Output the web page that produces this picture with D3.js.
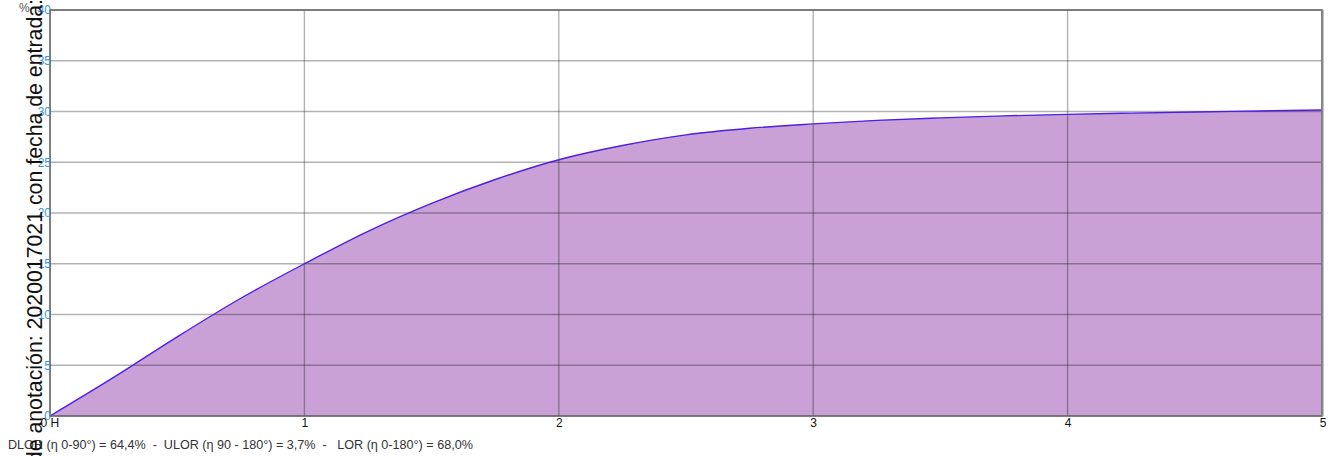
<!DOCTYPE html>
<html>
<head>
<meta charset="utf-8">
<script src="https://cdn.jsdelivr.net/npm/d3@7/dist/d3.min.js"></script>
<style>
  html, body { margin: 0; padding: 0; background: #fff; overflow: hidden; }
  svg { display: block; font-family: "Liberation Sans", Arial, sans-serif; }
</style>
</head>
<body>
<svg id="chart" width="1330" height="456"></svg>
<script>
// Cumulative distribution (%) against the horizontal distance (in H units)
const xValues = [0, 0.25, 0.5, 0.75, 1, 1.25, 1.5, 1.75, 2, 2.25, 2.5, 2.75, 3, 3.25, 3.5, 3.75, 4, 4.25, 4.5, 4.75, 5];
const yValues = [0, 3.8, 7.8, 11.6, 15.0, 18.2, 20.95, 23.3, 25.25, 26.65, 27.7, 28.35, 28.78, 29.13, 29.37, 29.57, 29.72, 29.84, 29.95, 30.05, 30.15];
const xTicks = [0, 1, 2, 3, 4, 5];
const xTickLabels = ["0 H", "1", "2", "3", "4", "5"];
const yTicks = [0, 5, 10, 15, 20, 25, 30, 35, 40];
const yUnit = "%";
const footer = "DLOR (\u03b7 0-90\u00b0) = 64,4%  -  ULOR (\u03b7 90 - 180\u00b0) = 3,7%  -   LOR (\u03b7 0-180\u00b0) = 68,0%";
const sideNote = "de anotación: 2020017021 con fecha de entrada:";

const svg = d3.select("#chart");
const plotL = 50, plotR = 1322, plotT = 10, plotB = 416;

const x = d3.scaleLinear().domain([0, 5]).range([plotL, plotR]);
const y = d3.scaleLinear().domain([0, 40]).range([plotB, plotT]);

const data = xValues.map((v, i) => ({ x: v, y: yValues[i] }));

// filled area under the curve
svg.append("path")
  .datum(data)
  .attr("fill", "#c9a1d6")
  .attr("d", d3.area().curve(d3.curveMonotoneX)
    .x(d => x(d.x)).y0(y(0)).y1(d => y(d.y)));

// grid
const grid = svg.append("g").attr("stroke", "#000").attr("stroke-opacity", 0.3).attr("stroke-width", 1.4);
yTicks.forEach(t => grid.append("line")
  .attr("x1", plotL).attr("x2", plotR).attr("y1", y(t)).attr("y2", y(t)));
xTicks.forEach(t => grid.append("line")
  .attr("x1", x(t)).attr("x2", x(t)).attr("y1", plotT).attr("y2", plotB));

// curve
svg.append("path")
  .datum(data)
  .attr("fill", "none")
  .attr("stroke", "#4f1fe0")
  .attr("stroke-width", 1.4)
  .attr("d", d3.line().curve(d3.curveMonotoneX).x(d => x(d.x)).y(d => y(d.y)));

// frame
svg.append("rect")
  .attr("x", plotL).attr("y", plotT).attr("width", plotR - plotL).attr("height", plotB - plotT)
  .attr("fill", "none").attr("stroke", "#6b6b6b").attr("stroke-width", 1.6);
svg.append("line")
  .attr("x1", plotR + 0.5).attr("x2", plotR + 0.5).attr("y1", plotT).attr("y2", plotB)
  .attr("stroke", "#8a8a8a").attr("stroke-width", 2);

// y axis labels
const yAxis = svg.append("g").attr("transform", `translate(${plotL + 1},0)`)
  .call(d3.axisLeft(y).tickValues(yTicks).tickSize(0).tickPadding(0));
yAxis.select(".domain").remove();
yAxis.selectAll("text").attr("fill", "#3f93da").style("font-size", "12px")
  .style("font-family", "'Liberation Sans', Arial, sans-serif");

svg.append("text").attr("x", 19).attr("y", 12).attr("fill", "#555")
  .style("font-size", "12px").text(yUnit);

// x axis labels
const xAxis = svg.append("g").attr("transform", `translate(0,${plotB})`)
  .call(d3.axisBottom(x).tickValues(xTicks).tickFormat((d, i) => xTickLabels[i]).tickSize(0).tickPadding(2));
xAxis.select(".domain").remove();
xAxis.selectAll("text").attr("fill", "#111").style("font-size", "12px")
  .style("font-family", "'Liberation Sans', Arial, sans-serif");
xAxis.selectAll(".tick text").filter((d, i) => i === 0).attr("text-anchor", "start").attr("dx", "-10");
xAxis.selectAll(".tick text").filter((d, i) => i === xTicks.length - 1).attr("text-anchor", "end").attr("dx", "4");

// footer summary
svg.append("text").attr("x", 8).attr("y", 449).attr("fill", "#333")
  .style("font-size", "12.6px").attr("xml:space", "preserve").text(footer);

// vertical note
svg.append("text")
  .attr("transform", "translate(42,-1) rotate(-90)")
  .attr("text-anchor", "end")
  .attr("fill", "#111")
  .style("font-size", "21.3px")
  .text(sideNote);
</script>
</body>
</html>
